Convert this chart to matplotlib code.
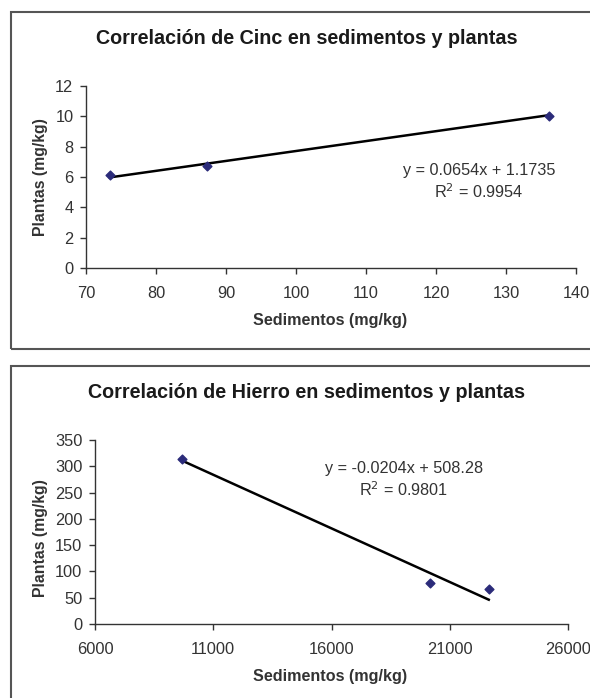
import numpy as np
import matplotlib
matplotlib.use("Agg")
import matplotlib.pyplot as plt
from matplotlib.patches import Rectangle

plt.rcParams['font.family'] = ['Liberation Sans', 'DejaVu Sans']

# Cinc (zinc) data
zn_sed = [73.4, 87.3, 136.1]
zn_pla = [6.1, 6.7, 10.05]
zn_slope, zn_icpt = 0.0654, 1.1735
zn_eq = "y = 0.0654x + 1.1735"
zn_r2 = "R$^2$ = 0.9954"

# Hierro (iron) data
fe_sed = [9690, 20150, 22650]
fe_pla = [314, 78, 66]
fe_slope, fe_icpt = -0.0204, 508.28
fe_eq = "y = -0.0204x + 508.28"
fe_r2 = "R$^2$ = 0.9801"

W, H = 590, 698
fig = plt.figure(figsize=(W / 100, H / 100), dpi=100)

def px(x, y):
    return x / W, 1 - y / H

# grey frames around each chart
for (x0, y0, x1, y1) in [(11, 12, 600, 349), (11, 366, 600, 710)]:
    fig.patches.append(Rectangle((x0 / W, 1 - y1 / H), (x1 - x0) / W, (y1 - y0) / H,
                                 transform=fig.transFigure, fill=False,
                                 edgecolor='#555555', linewidth=1.5, clip_on=False))

def draw(ax, xs, ys, slope, icpt, xlim, xticks, ylim, yticks):
    xs = np.array(xs)
    xx = np.array([xs.min(), xs.max()])
    ax.plot(xx, slope * xx + icpt, color='black', linewidth=1.8, zorder=2)
    ax.scatter(xs, ys, marker='D', s=20, color='#2b2b7a', zorder=3)
    ax.set_xlim(*xlim)
    ax.set_ylim(*ylim)
    ax.set_xticks(xticks)
    ax.set_yticks(yticks)
    for s in ['top', 'right']:
        ax.spines[s].set_visible(False)
    for s in ['left', 'bottom']:
        ax.spines[s].set_color('#333333')
        ax.spines[s].set_linewidth(1.0)
    ax.tick_params(direction='out', length=4, width=1, color='#333333',
                   labelsize=11.8, labelcolor='#333333')
    ax.tick_params(axis='x', pad=9)
    ax.tick_params(axis='y', pad=5)

ax1 = fig.add_axes([86 / W, 1 - 268 / H, 490 / W, 182 / H])
draw(ax1, zn_sed, zn_pla, zn_slope, zn_icpt, (70, 140), range(70, 141, 10),
     (0, 12), range(0, 13, 2))
ax2 = fig.add_axes([95 / W, 1 - 624 / H, 473 / W, 184 / H])
draw(ax2, fe_sed, fe_pla, fe_slope, fe_icpt, (6000, 26000), range(6000, 26001, 5000),
     (0, 350), range(0, 351, 50))

def labels(ty, yly, xly, eqx, eqy, eq, r2, title):
    fig.text(*px(307, ty), title, ha='center', va='center', fontsize=14.2,
             fontweight='bold', color='#1a1a1a')
    fig.text(*px(41, yly), 'Plantas (mg/kg)', ha='center', va='center', rotation=90,
             fontsize=11.4, fontweight='bold', color='#333333')
    fig.text(*px(330, xly), 'Sedimentos (mg/kg)', ha='center', va='center',
             fontsize=11.6, fontweight='bold', color='#333333')
    fig.text(*px(eqx, eqy), eq, ha='center', va='center', fontsize=11.7, color='#333333')
    fig.text(*px(eqx, eqy + 22), r2, ha='center', va='center', fontsize=11.7, color='#333333')

labels(38, 177, 320, 479, 170, zn_eq, zn_r2, 'Correlación de Cinc en sedimentos y plantas')
labels(392, 538, 676, 404, 468, fe_eq, fe_r2, 'Correlación de Hierro en sedimentos y plantas')

fig.savefig('out.png', dpi=100)
